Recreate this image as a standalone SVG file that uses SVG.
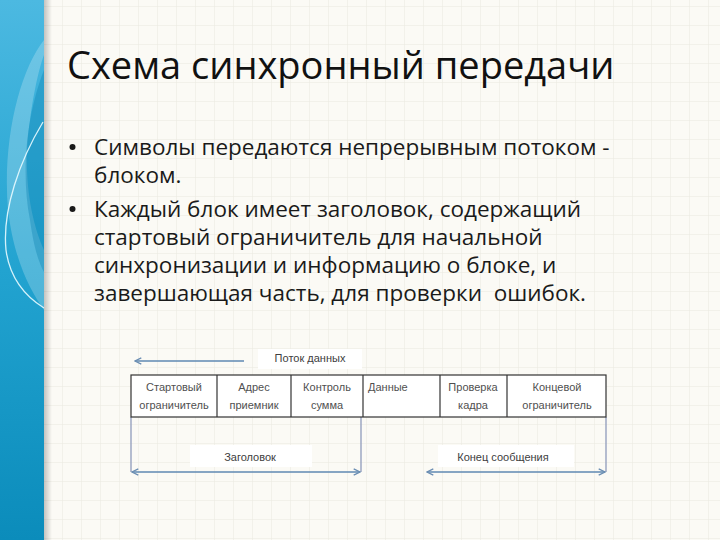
<svg xmlns="http://www.w3.org/2000/svg" width="720" height="540" viewBox="0 0 720 540">
<defs>
<pattern id="grid" x="5" y="6" width="19" height="19" patternUnits="userSpaceOnUse">
<path d="M0 0H19M0 0V19" stroke="#e9e8e0" stroke-width="1" fill="none"/>
</pattern>
<linearGradient id="bar" x1="0" y1="0" x2="0" y2="1">
<stop offset="0" stop-color="#4cb9e1"/>
<stop offset="0.5" stop-color="#22a3d0"/>
<stop offset="1" stop-color="#0b8cbb"/>
</linearGradient>
<linearGradient id="shadow" x1="0" y1="0" x2="1" y2="0">
<stop offset="0" stop-color="#000" stop-opacity="0.22"/>
<stop offset="1" stop-color="#000" stop-opacity="0"/>
</linearGradient>
<marker id="open" viewBox="0 0 10 10" refX="9" refY="5" markerWidth="9" markerHeight="9" orient="auto-start-reverse" markerUnits="userSpaceOnUse">
<path d="M2 1.5L9 5L2 8.5" fill="none" stroke="#6a8db2" stroke-width="1.4"/>
</marker>
</defs>
<style>
.title{font-family:"Open Sans","Liberation Sans",sans-serif;font-size:38px;fill:#111}
.body{font-family:"Open Sans","Liberation Sans",sans-serif;font-size:22.5px;fill:#1a1a1a;white-space:pre}
.dot{fill:#1a1a1a}
.cell{font-family:"Liberation Sans","DejaVu Sans",sans-serif;font-size:11px;fill:#505050;text-anchor:middle}
.lab{font-family:"Liberation Sans","DejaVu Sans",sans-serif;font-size:11px;fill:#404040;text-anchor:middle}
.box{fill:#ffffff;stroke:#333;stroke-width:1.2}
.div{stroke:#333;stroke-width:1.2}
.vline{stroke:#8e9bbb;stroke-width:1.3;fill:none}
.arrow{stroke:#5f88b2;stroke-width:1.4;fill:none}
</style>
<rect width="720" height="540" fill="#fbfaf5"/>
<rect width="720" height="540" fill="url(#grid)"/>
<g id="sidebar">
<rect x="0" y="0" width="44" height="540" fill="url(#bar)"/>
<rect x="44" y="0" width="8" height="540" fill="url(#shadow)"/>
<path d="M44 40 C20 70 2 140 8 210 C14 260 30 290 44 310 L44 250 C30 220 22 170 30 120 C34 90 40 65 44 55 Z" fill="#ffffff" opacity="0.22"/>
<path d="M44 70 C28 110 20 170 30 220 C34 250 40 265 44 272 L44 95 Z" fill="#0a7fae" opacity="0.35"/>
<path d="M43 122 C20 160 2 210 6 250 C10 280 28 298 44 308" fill="none" stroke="#e8fbff" stroke-width="1.3" opacity="0.9"/>
</g>
<g id="title">
<text class="title" x="67" y="79">Схема синхронный передачи</text>
</g>
<g id="bullets">
<circle class="dot" cx="72.5" cy="147" r="3"/>
<text class="body" x="94" y="155">Символы передаются непрерывным потоком -</text>
<text class="body" x="94" y="183">блоком.</text>
<circle class="dot" cx="72.5" cy="209" r="3"/>
<text class="body" x="94" y="217">Каждый блок имеет заголовок, содержащий</text>
<text class="body" x="94" y="245">стартовый ограничитель для начальной</text>
<text class="body" x="94" y="273">синхронизации и информацию о блоке, и</text>
<text class="body" x="94" y="301" xml:space="preserve">завершающая часть, для проверки  ошибок.</text>
</g>
<g id="connectors">
<line class="arrow" x1="244" y1="361" x2="135" y2="361" marker-end="url(#open)" stroke="#86a7c6"/>
<line class="vline" x1="131" y1="417" x2="131" y2="472"/>
<line class="vline" x1="361" y1="417" x2="361" y2="472"/>
<line class="vline" x1="606" y1="417" x2="606" y2="472"/>
<line class="arrow" x1="132" y1="472" x2="360" y2="472" marker-start="url(#open)" marker-end="url(#open)"/>
<line class="arrow" x1="427" y1="472" x2="605" y2="472" marker-start="url(#open)" marker-end="url(#open)"/>
</g>
<g id="flow-label">
<rect x="258" y="349" width="104" height="20" fill="#ffffff"/>
<text class="lab" x="310" y="362">Поток данных</text>
</g>
<g id="frame">
<rect class="box" x="131" y="375" width="475" height="42"/>
<line class="div" x1="217" y1="375" x2="217" y2="417"/>
<line class="div" x1="291" y1="375" x2="291" y2="417"/>
<line class="div" x1="363" y1="375" x2="363" y2="417"/>
<line class="div" x1="440" y1="375" x2="440" y2="417"/>
<line class="div" x1="507" y1="375" x2="507" y2="417"/>
</g>
<g id="cell-start"><text class="cell" x="174" y="391">Стартовый</text><text class="cell" x="174" y="409">ограничитель</text></g>
<g id="cell-address"><text class="cell" x="254" y="391">Адрес</text><text class="cell" x="254" y="409">приемник</text></g>
<g id="cell-checksum"><text class="cell" x="327" y="391">Контроль</text><text class="cell" x="327" y="409">сумма</text></g>
<g id="cell-data"><text class="cell" x="368" y="391" style="text-anchor:start">Данные</text></g>
<g id="cell-check"><text class="cell" x="473" y="391">Проверка</text><text class="cell" x="473" y="409">кадра</text></g>
<g id="cell-end"><text class="cell" x="557" y="391">Концевой</text><text class="cell" x="557" y="409">ограничитель</text></g>
<g id="header-label">
<rect x="190" y="445" width="122" height="22" fill="#ffffff"/>
<text class="lab" x="250" y="461">Заголовок</text>
</g>
<g id="end-label">
<rect x="438" y="445" width="136" height="22" fill="#ffffff"/>
<text class="lab" x="503" y="461">Конец сообщения</text>
</g>
</svg>
